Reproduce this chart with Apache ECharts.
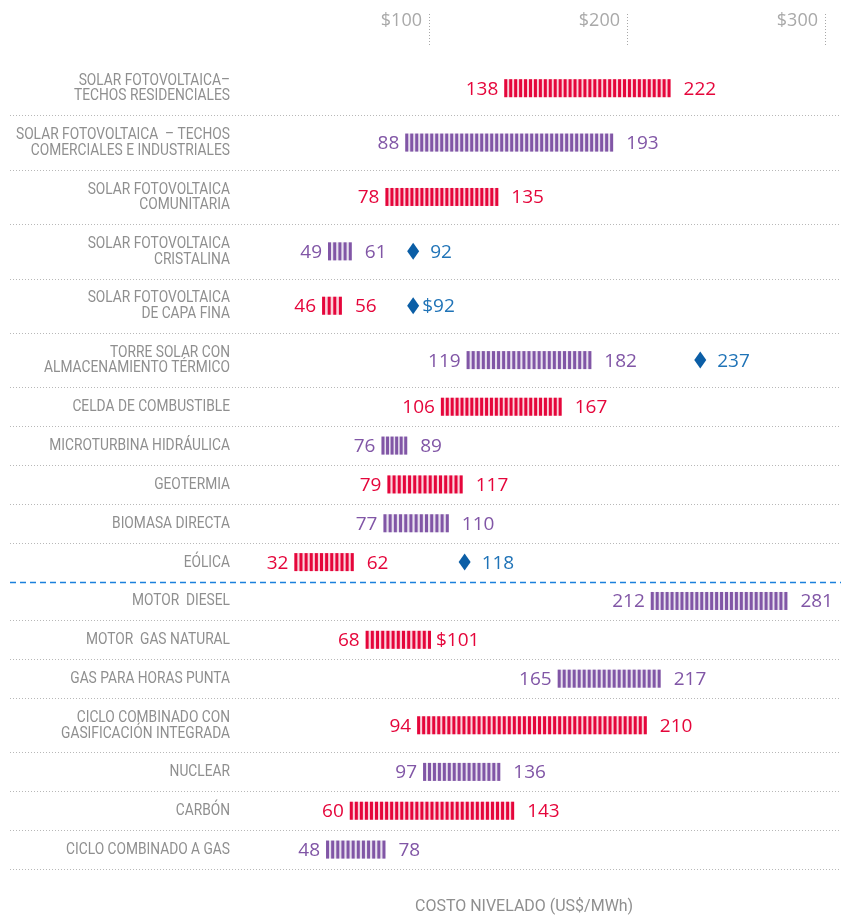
<!DOCTYPE html>
<html>
<head>
<meta charset="utf-8">
<script src="https://cdn.jsdelivr.net/npm/echarts@6/dist/echarts.min.js"></script>
<style>
  html, body { margin: 0; padding: 0; background: #ffffff; }
  #chart { width: 841px; height: 918px; }
</style>
</head>
<body>
<div id="chart"></div>
<script>
// Levelized cost ranges by technology (US$/MWh)
const categories = [
  'SOLAR FOTOVOLTAICA–\nTECHOS RESIDENCIALES',
  'SOLAR FOTOVOLTAICA  – TECHOS\nCOMERCIALES E INDUSTRIALES',
  'SOLAR FOTOVOLTAICA\nCOMUNITARIA',
  'SOLAR FOTOVOLTAICA\nCRISTALINA',
  'SOLAR FOTOVOLTAICA\nDE CAPA FINA',
  'TORRE SOLAR CON\nALMACENAMIENTO TÉRMICO',
  'CELDA DE COMBUSTIBLE',
  'MICROTURBINA HIDRÁULICA',
  'GEOTERMIA',
  'BIOMASA DIRECTA',
  'EÓLICA',
  'MOTOR  DIESEL',
  'MOTOR  GAS NATURAL',
  'GAS PARA HORAS PUNTA',
  'CICLO COMBINADO CON\nGASIFICACIÓN INTEGRADA',
  'NUCLEAR',
  'CARBÓN',
  'CICLO COMBINADO A GAS'
];
const lowVals  = [138, 88, 78, 49, 46, 119, 106, 76, 79, 77, 32, 212, 68, 165, 94, 97, 60, 48];
const highVals = [222, 193, 135, 61, 56, 182, 167, 89, 117, 110, 62, 281, 101, 217, 210, 136, 143, 78];
const highPrefix = ['', '', '', '', '', '', '', '', '', '', '', '', '$', '', '', '', '', ''];
const diamondVals = [null, null, null, 92, 92, 237, null, null, null, null, 118, null, null, null, null, null, null, null];
const diamondPrefix = ['', '', '', '', '$', '', '', '', '', '', '', '', '', '', '', '', '', ''];
const xTicks = [100, 200, 300];
const groupBreakAfter = 'EÓLICA';
const axisTitle = 'COSTO NIVELADO (US$/MWh)';

// ---- styling ----
const RED = '#e5063b';
const PURPLE = '#8156a6';
const BLUE_MARK = '#0b5ea6';
const BLUE_TEXT = '#1f73b7';
const GREY = '#8f8f8f';
const LABEL_FONT = 'Roboto, "Noto Sans", sans-serif';
const LABEL_SQUEEZE = 0.86;   // horizontal condensing of the name labels
const NUM_FONT = '"Open Sans", "Noto Sans", sans-serif';

// Row heights: two-line labels get taller rows
const rowUnits = categories.map(c => (c.indexOf('\n') >= 0 ? 1.4 : 1));
const rowStart = [];
rowUnits.reduce((acc, u, i) => { rowStart[i] = acc; return acc + u; }, 0);
const totalUnits = rowUnits.reduce((a, b) => a + b, 0);
const breakIndex = categories.indexOf(groupBreakAfter);

const chart = echarts.init(document.getElementById('chart'), null, { renderer: 'canvas' });

function renderRow(params, api) {
  const i = api.value(0);
  const lo = api.value(1);
  const hi = api.value(2);
  const color = i % 2 === 0 ? RED : PURPLE;
  const mid = rowStart[i] + rowUnits[i] / 2;
  const yTop = api.coord([0, rowStart[i]])[1];
  const yBot = api.coord([0, rowStart[i] + rowUnits[i]])[1];
  const yc = (yTop + yBot) / 2;
  const yRule = Math.round(yBot) + 0.5;
  const xZero = api.coord([0, mid])[0];
  const x0 = api.coord([lo, mid])[0];
  const x1 = api.coord([hi, mid])[0];
  const barH = 18;
  const children = [];

  // technology name
  children.push({
    type: 'text',
    x: xZero - 1, y: yc + 0.5,
    scaleX: LABEL_SQUEEZE,
    style: {
      x: 0, y: 0, text: categories[i],
      align: 'right', verticalAlign: 'middle',
      fill: GREY, font: '16px ' + LABEL_FONT, lineHeight: 15.5
    }
  });

  // row separator
  const isBreak = i === breakIndex;
  children.push({
    type: 'line',
    shape: { x1: 10, y1: yRule, x2: api.getWidth(), y2: yRule },
    style: isBreak
      ? { stroke: '#1a80dc', lineWidth: 1.5, lineDash: [6, 4] }
      : { stroke: '#b8b8b8', lineWidth: 1, lineDash: [1, 2] }
  });

  // striped range bar
  const w = x1 - x0;
  const stripeW = 3;
  const n = Math.max(2, Math.round((w - stripeW) / 5) + 1);
  const step = (w - stripeW) / (n - 1);
  children.push({
    type: 'rect',
    shape: { x: x0, y: yc - barH / 2, width: w, height: barH },
    style: { fill: color, opacity: 0.18 }
  });
  for (let k = 0; k < n; k++) {
    children.push({
      type: 'rect',
      shape: { x: x0 + k * step, y: yc - barH / 2, width: stripeW, height: barH },
      style: { fill: color }
    });
  }

  // range labels
  children.push({
    type: 'text',
    style: {
      x: x0 - 6, y: yc + 1, text: String(lo), align: 'right', verticalAlign: 'middle',
      fill: color, font: '19px ' + NUM_FONT
    }
  });
  children.push({
    type: 'text',
    style: {
      x: x1 + (highPrefix[i] ? 5 : 13), y: yc + 1, text: highPrefix[i] + String(hi),
      align: 'left', verticalAlign: 'middle',
      fill: color, font: '19px ' + NUM_FONT
    }
  });

  // diamond marker
  const d = diamondVals[i];
  if (d != null) {
    const p = api.coord([d, mid]);
    children.push({
      type: 'polygon',
      shape: { points: [[p[0], yc - 8.5], [p[0] + 6, yc], [p[0], yc + 8.5], [p[0] - 6, yc]] },
      style: { fill: BLUE_MARK }
    });
    children.push({
      type: 'text',
      style: {
        x: p[0] + (diamondPrefix[i] ? 9 : 17), y: yc + 1, text: diamondPrefix[i] + String(d),
        align: 'left', verticalAlign: 'middle',
        fill: BLUE_TEXT, font: '19px ' + NUM_FONT
      }
    });
  }
  return { type: 'group', children: children };
}

const option = {
  animation: false,
  backgroundColor: '#ffffff',
  grid: [
    { left: 231, right: 16, top: 61, bottom: 49 },   // rows
    { left: 231, right: 16, top: 14, height: 32 }    // cost scale
  ],
  xAxis: [
    { type: 'value', gridIndex: 0, min: 0, max: 300, interval: 100, show: false },
    {
      type: 'value', gridIndex: 1, position: 'bottom', min: 0, max: 300, interval: 100,
      axisLine: { show: false },
      axisTick: { show: false },
      splitLine: {
        show: true, showMinLine: false, showMaxLine: true,
        lineStyle: { color: '#a8a8a8', type: [1, 2], width: 1 }
      },
      axisLabel: {
        inside: true,
        customValues: xTicks,
        formatter: v => '$' + v,
        align: 'right', verticalAlign: 'middle', margin: 25,
        padding: [0, 7, 0, 0],
        color: '#a9a9a9', fontSize: 18, fontFamily: NUM_FONT
      }
    }
  ],
  yAxis: [
    { type: 'value', gridIndex: 0, min: 0, max: totalUnits, inverse: true, show: false },
    { type: 'value', gridIndex: 1, min: 0, max: 1, show: false }
  ],
  series: [{
    type: 'custom',
    xAxisIndex: 0, yAxisIndex: 0,
    clip: false,
    silent: true,
    encode: { x: [1, 2], y: 0 },
    data: categories.map((c, i) => [i, lowVals[i], highVals[i]]),
    renderItem: renderRow
  }],
  graphic: [{
    type: 'text',
    x: 415, y: 898,
    scaleX: 0.94,
    style: { text: axisTitle, fill: GREY, font: '17px ' + LABEL_FONT }
  }]
};
chart.setOption(option);
</script>
</body>
</html>
